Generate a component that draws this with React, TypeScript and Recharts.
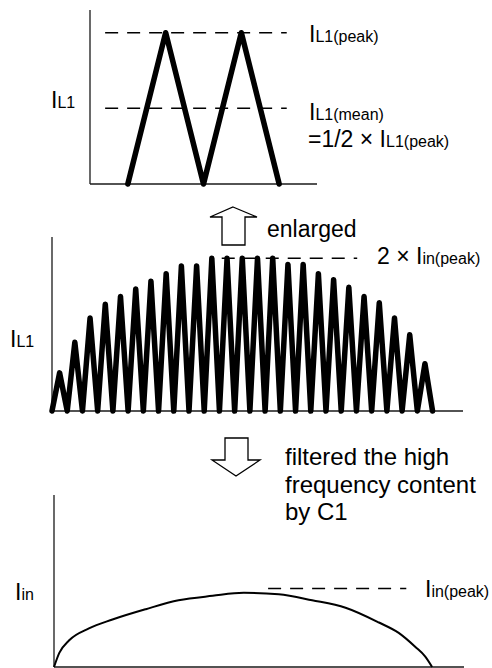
import React from 'react';
import { LineChart, Line, XAxis, YAxis, ReferenceLine } from 'recharts';

// inductor current, zoomed view: two switching periods
const pulseTime = [1, 2, 3, 4, 5];
const pulseCurrent = [0, 100, 0, 100, 0];
const pulsePeak = 100;
const pulseMean = 50;

// inductor current over a half mains cycle: one peak per switching period
const ripplePeaks = [25, 45, 61, 70, 75, 80, 85, 90, 95, 95, 100, 100, 100, 100, 100, 96, 96, 90, 86, 81, 75, 71, 61, 50, 31];
const rippleEnvelope = 100;

// input current after C1
const filteredTime = [0, 0.7, 2.0, 4.6, 7.7, 12.1, 16.4, 20.9, 25.0, 29.6, 34.0, 38.4, 42.8, 45.4, 47.6, 48.9, 49.8];
const filteredCurrent = [0, 9.5, 18, 26, 32, 39, 45, 48, 50, 49, 45, 40, 30, 23, 13.5, 7, 0];
const filteredPeakMark = 53;

const pulseData = pulseTime.map((t, k) => ({ t, i: pulseCurrent[k] }));
const rippleData = Array.from({ length: ripplePeaks.length * 2 + 1 }, (_, k) => ({
  t: k,
  i: k % 2 ? ripplePeaks[(k - 1) / 2] : 0,
}));
const filteredData = filteredTime.map((t, k) => ({ t, i: filteredCurrent[k] }));

const FONT = '"Liberation Sans", Arial, Helvetica, sans-serif';
const DASH = '13 9';

// scales only; the axis lines themselves are drawn as reference lines at zero
const Axes = ({ xMax, yMax }: { xMax: number; yMax: number }) => [
  <XAxis key="x" type="number" dataKey="t" domain={[0, xMax]} hide />,
  <YAxis key="y" type="number" domain={[0, yMax]} hide />,
  <ReferenceLine key="ax" x={0} stroke="#1a1a1a" strokeWidth={1.3} ifOverflow="visible" />,
  <ReferenceLine key="ay" y={0} stroke="#1a1a1a" strokeWidth={1.3} ifOverflow="visible" />,
];

const Sub = ({ main, sub, x, y }: { main: string; sub: string; x: number; y: number }) => (
  <text x={x} y={y} fontSize={23}>
    {main}
    <tspan fontSize={16}>{sub}</tspan>
  </text>
);

const App = () => {
  return (
    <div style={{ position: 'absolute', left: 0, top: 0, width: 492, height: 668, background: '#fff', fontFamily: FONT }}>
      <div style={{ position: 'absolute', left: 0, top: 0 }}>
        <LineChart width={492} height={200} data={pulseData} margin={{ top: 10, right: 175, bottom: 16, left: 90 }}>
          {Axes({ xMax: 6, yMax: 115 })}
          <Line
            type="linear"
            dataKey="i"
            stroke="#000"
            strokeWidth={5.5}
            strokeLinejoin="round"
            strokeLinecap="round"
            dot={false}
            isAnimationActive={false}
          />
          <ReferenceLine segment={[{ x: 0.4, y: pulsePeak }, { x: 5.2, y: pulsePeak }]} stroke="#000" strokeWidth={1.5} strokeDasharray={DASH} ifOverflow="visible" />
          <ReferenceLine segment={[{ x: 0.4, y: pulseMean }, { x: 5.2, y: pulseMean }]} stroke="#000" strokeWidth={1.5} strokeDasharray={DASH} ifOverflow="visible" />
        </LineChart>
      </div>

      <div style={{ position: 'absolute', left: 0, top: 200 }}>
        <LineChart width={492} height={230} data={rippleData} margin={{ top: 37, right: 29, bottom: 19, left: 52 }}>
          {Axes({ xMax: 54, yMax: 114 })}
          <Line
            type="linear"
            dataKey="i"
            stroke="#000"
            strokeWidth={5.5}
            strokeLinejoin="round"
            strokeLinecap="round"
            dot={false}
            isAnimationActive={false}
          />
          <ReferenceLine segment={[{ x: 22.3, y: rippleEnvelope }, { x: 40.1, y: rippleEnvelope }]} stroke="#000" strokeWidth={1.5} strokeDasharray={DASH} ifOverflow="visible" />
        </LineChart>
      </div>

      <div style={{ position: 'absolute', left: 0, top: 430 }}>
        <LineChart width={492} height={238} data={filteredData} margin={{ top: 65, right: 28, bottom: 1, left: 54 }}>
          {Axes({ xMax: 54, yMax: 116 })}
          <Line type="monotone" dataKey="i" stroke="#000" strokeWidth={2} dot={false} isAnimationActive={false} />
          <ReferenceLine segment={[{ x: 28.2, y: filteredPeakMark }, { x: 46.4, y: filteredPeakMark }]} stroke="#000" strokeWidth={1.5} strokeDasharray={DASH} ifOverflow="visible" />
        </LineChart>
      </div>

      {/* labels and the hollow arrows between the panels */}
      <svg width={492} height={668} style={{ position: 'absolute', left: 0, top: 0, pointerEvents: 'none' }} fontFamily={FONT} fill="#000">
        <Sub main="I" sub="L1" x={51} y={108} />
        <Sub main="I" sub="L1(peak)" x={309} y={42} />
        <Sub main="I" sub="L1(mean)" x={309} y={120} />
        <Sub main="=1/2 × I" sub="L1(peak)" x={308} y={147} />

        <polygon points="233,207 257,217 245,217 245,245 222,245 222,217 210,217" fill="#fff" stroke="#000" strokeWidth={1.3} />
        <text x={267} y={237} fontSize={23}>enlarged</text>

        <Sub main="I" sub="L1" x={10} y={347} />
        <Sub main="2 × I" sub="in(peak)" x={377} y={264} />

        <polygon points="225,438 248,438 248,460 260,460 236,476 212,460 225,460" fill="#fff" stroke="#000" strokeWidth={1.3} />
        <text x={285} y={465} fontSize={24}>filtered the high</text>
        <text x={285} y={493} fontSize={24}>frequency content</text>
        <text x={285} y={520} fontSize={24}>by C1</text>

        <Sub main="I" sub="in" x={15} y={600} />
        <Sub main="I" sub="in(peak)" x={425} y={597} />
      </svg>
    </div>
  );
};

export default App;
